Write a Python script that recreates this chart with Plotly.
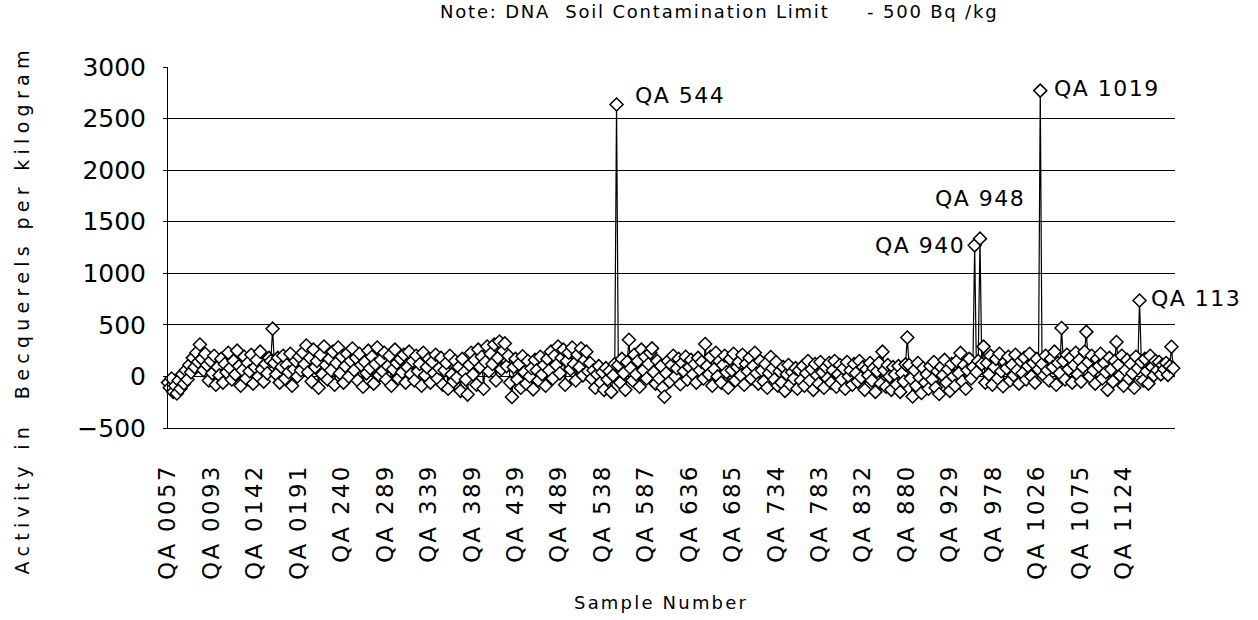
import plotly.graph_objects as go

# Activity in Bq/kg for each soil sample, in sample order
activity_a = [
    -60, -110, -20, -150, -90, -165, -40, -120, 20, -70, 60, -30, 110, 40, 180, 90, 230, 140, 310,
    170, 60, 220, 110, -40, 150, 30, 200, -80, 90, 10, 170, -60, 120, 40, 230, 80, -30, 150, 20,
    250, 100, -90, 60, 190, -20, 130, 50, 210, -70, 90, 160, 0, 240, 70, -50, 120, 30, 180,
    150, 463, 130, 20, 180, -60, 90, 200, -20, 110, 40, 220, -90, 70, 150, 0, 190, 60,
    230, 120, 300, 40, 180, -50, 260, 90, 150, -110, 210, 20, 290, 110, -30, 170, 60, 240, -80,
    130, 280, 30, 190, -60, 100, 220, 0, 150,
]
activity_b = [
    270, 60, 180, -40, 220, 110, -100, 140, 30, 250, 80, 190, -70, 120, 280, 10, 160, 50, 230, -30,
    100, 200, -90, 70, 260, 130, -20, 170, 40, 210, -60, 90, 240, 20,
    150, -40, 200, 50, 120, -90, 230, 10, 90, 170, -60, 140, 30, 210, -20, 80,
    180, -80, 60, 130, -120, 200, 20, -50, 150, -10, 90, -140, 170, 40, -30, -176, 110,
    230, 20, 160, -80, 260, 90, 190, -120, 140, 290, 50, 220, 120, 310, -40, 180, 338, 70, 250,
    320, 100, 200, -60,
    -200, 90, 170, -30, 120, -110, 195, 40, -70, 150, 0, 80, -125, 160, 60, -40, 190, 20, 110, -90,
]
activity_c = [
    170, 60, 240, -20, 200, 110, 290, 30, 180, 260, -80, 150, 230, 70, 280, 120, -40, 210, 90, 270,
    10, 160, 240, 50, 130,
    -20, 60, -110, 20, 100, -60, 40, -130, 80, -30, 50, -150, 10, 120,
    2637,
    110, -60, 170, 30, -130, 140, 356, 80, -40, 210, 20, 150, -100, 260, 60, 190, -20, 120, 230,
    272, 40, -70, 150, -20, 100, -110, -197,
    30, 150, -50, 110, 200, 0, 80, 170, -75, 130, 50, 190, -30, 90, 160, 20, 120, -60, 180, 60,
]
activity_d = [
    140, -20, 314, 100, 20, 190, -90, 70, 230, 0, 150, -60, 110, 200, 40, -110, 170, 60, 220, -40,
    90, 140, 10, 210, -80, 120, 50, 180, -20, 100, 230, 30, -70, 150,
    60, -50, 120, -110, 30, 188, 80, -30, 140, -90, 50,
    -60, 90, -140, 20, 110, -80, 40, -20, 80, -120, 60, -40,
    100, -90, 30, 150, -40, 70, -130, 120, 10, -70, 140, 40, -110, 90, -20, 130, -60, 60, 150, -100,
    20, 110, -30, 80, -120, 140, 0, 60, -80, 120, 30, -50, 150, -10, 90, -130, 70, 10, 130,
    -40, 80, -150, 50, 130, -70, 240, 60, -100, 110, 0, -130, 90, 20,
]
activity_e = [
    -80, 100, -150, 30, -50, 117, 378, 110, -20, -195, 60, -90, 130, -10, -160, 80, -60, 20, -120, 100,
    -30, 140, -110, 50, -170, 90, 10, 160, -60, 70, -140, 120, 0, -90, 150, 30,
    228, -50, 110, -120, 60, 170, -20, 90, 1271, 40, 150, 1336, 120, 289, -60,
    130, 20, 200, -80, 90, 170, -20, 220, 50, -95, 140, 80, 190, -40, 110, 10, 210, 60, -70, 150,
    30, 180, -30, 100, 220, 0, 130, -60, 170, 70,
]
activity_f = [
    2771,
    120, 10, 200, 60, -40, 170, 90, 240, -80, 130, 30, 469, 150, -30, 210, 70, 180, -60, 110, 230,
    20, 160, -50, 90, 239, 432, 140, 0, 200, 60, -70, 170, 100, 220,
    -20, 130, 40, -130, 180, 70, -50, 150, 333, 110, 10, 200, -90, 60, 160, -20, 120, 30, -110, 190,
    80, 736, 140, -40, 170, 50, -70, 200, 90, 10, 150,
    60, 140, 20, 110, 70, 130, 15, 100, 287, 80,
]
activity = activity_a + activity_b + activity_c + activity_d + activity_e + activity_f
sample_index = list(range(len(activity)))

# Axis labels: every 49th sample number is printed
tick_labels = [
    "QA 0057", "QA 0093", "QA 0142", "QA 0191", "QA 240", "QA 289", "QA 339", "QA 389",
    "QA 439", "QA 489", "QA 538", "QA 587", "QA 636", "QA 685", "QA 734", "QA 783",
    "QA 832", "QA 880", "QA 929", "QA 978", "QA 1026", "QA 1075", "QA 1124",
]
label_step = 24.5
tick_positions = [k * label_step for k in range(len(tick_labels))]

# Named high readings and their activities
outlier_names = ["QA 544", "QA 940", "QA 948", "QA 1019", "QA 113"]
outlier_values = [2637, 1271, 1336, 2771, 736]

FONT = "DejaVu Sans"


def spaced(text, px):
    return f'<span style="letter-spacing:{px}px">{text}</span>'


fig = go.Figure()
fig.add_trace(go.Scatter(
    x=sample_index,
    y=activity,
    mode="lines+markers",
    line=dict(color="black", width=1.2),
    marker=dict(symbol="diamond", size=10, color="white",
                line=dict(color="black", width=1.5)),
    cliponaxis=False,
    hoverinfo="x+y",
))

# label placement for each named sample: (xanchor, yanchor, xshift, yshift)
label_style = {
    "QA 544": ("left", "middle", 16, 9),
    "QA 940": ("right", "middle", -8, 0),
    "QA 948": ("center", "bottom", 0, 26),
    "QA 1019": ("left", "middle", 12, 2),
    "QA 113": ("left", "middle", 9, 2),
}

annotations = []
for name, val in zip(outlier_names, outlier_values):
    xa, ya, xs, ys = label_style[name]
    annotations.append(dict(
        x=activity.index(val), y=val, xref="x", yref="y",
        text=spaced(name, 1.5), showarrow=False,
        xanchor=xa, yanchor=ya, xshift=xs, yshift=ys,
        font=dict(family=FONT, size=22, color="black"),
    ))

nb = "\u00a0"
annotations.append(dict(
    x=0.268, y=1.154, xref="paper", yref="paper",
    text=spaced(f"Note: DNA{nb}{nb}Soil Contamination Limit{nb * 5}-{nb}500 Bq /kg", 1.8),
    showarrow=False, xanchor="left", yanchor="middle",
    font=dict(family=FONT, size=18, color="black"),
))
annotations.append(dict(
    x=0.49, y=-0.483, xref="paper", yref="paper",
    text=spaced("Sample Number", 2.2), showarrow=False,
    xanchor="center", yanchor="middle",
    font=dict(family=FONT, size=18, color="black"),
))
annotations.append(dict(
    x=-0.145, y=0.328, xref="paper", yref="paper",
    text=spaced(f"Activity in{nb}{nb}Becquerels per kilogram", 5.3),
    textangle=-90, showarrow=False, xanchor="center", yanchor="middle",
    font=dict(family=FONT, size=19, color="black"),
))

fig.update_layout(
    width=1258, height=620,
    margin=dict(l=168, r=83, t=67, b=192),
    paper_bgcolor="white", plot_bgcolor="white",
    showlegend=False,
    annotations=annotations,
    xaxis=dict(
        range=[0, 568],
        tickmode="array", tickvals=tick_positions,
        ticktext=[spaced(t, 2.3) for t in tick_labels],
        tickangle=-90, ticks="", showgrid=False, zeroline=False,
        showline=True, linecolor="black", linewidth=1,
        tickfont=dict(family=FONT, size=23, color="black"),
        ticklabelstandoff=26,
    ),
    yaxis=dict(
        range=[-500, 3000], tick0=0, dtick=500,
        showgrid=True, gridcolor="black", gridwidth=1,
        zeroline=False, showline=True, linecolor="black", linewidth=1,
        ticks="outside", ticklen=4, tickcolor="black",
        tickfont=dict(family=FONT, size=25, color="black"),
        ticklabelstandoff=12,
    ),
)

fig.write_html("out.html")
